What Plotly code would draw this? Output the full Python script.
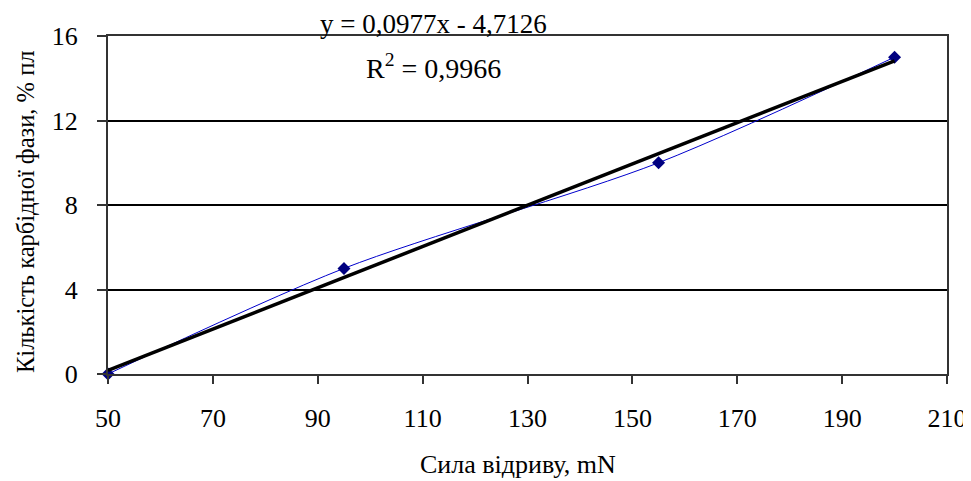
import numpy as np
import plotly.graph_objects as go

force = [50, 95, 155, 200]          # Сила відриву, mN
carbide = [0, 5, 10, 15]            # Кількість карбідної фази, %
x_ticks = [50, 70, 90, 110, 130, 150, 170, 190, 210]
y_ticks = [0, 4, 8, 12, 16]
x_title = "Сила відриву, mN"
y_title = "Кількість карбідної фази, % пл"

slope, intercept = np.polyfit(force, carbide, 1)
pred = np.polyval([slope, intercept], force)
r2 = 1 - np.sum((np.array(carbide) - pred) ** 2) / np.sum((np.array(carbide) - np.mean(carbide)) ** 2)
trend_x = [min(force), max(force)]
trend_y = [slope * v + intercept for v in trend_x]

font = "Liberation Serif, Times New Roman, serif"
OFF = 8  # page body margin offset
W, H = 971 - OFF, 481 - OFF
L, R, T, B = 108 - OFF, 24, 36 - OFF, 107
pw, ph = W - L - R, H - T - B


def px(xp):
    return (xp - OFF - L) / pw


def py(yp):
    return 1 + (T - (yp - OFF)) / ph


fig = go.Figure()
fig.add_trace(go.Scatter(
    x=force, y=carbide, mode="lines+markers",
    line=dict(color="#0000CC", width=1, shape="spline", smoothing=0.8),
    marker=dict(symbol="diamond", size=10, color="#000080"),
    showlegend=False, cliponaxis=False))
fig.add_trace(go.Scatter(
    x=trend_x, y=trend_y, mode="lines",
    line=dict(color="black", width=3.5), showlegend=False, cliponaxis=False))

eq = f"y = {slope:.4f}x - {abs(intercept):.4f}".replace(".", ",")
r2t = f"R<sup>2</sup> = {r2:.4f}".replace(".", ",")
fig.add_annotation(x=px(433), y=py(8), xref="paper", yref="paper", xanchor="center", yanchor="top",
                   text=eq, showarrow=False, borderpad=0,
                   font=dict(family=font, size=27, color="black"))
fig.add_annotation(x=px(433), y=py(66), xref="paper", yref="paper", xanchor="center", yanchor="middle",
                   text=r2t, showarrow=False, font=dict(family=font, size=28, color="black"))
fig.add_annotation(x=px(518), y=py(464), xref="paper", yref="paper", xanchor="center", yanchor="middle",
                   text=x_title, showarrow=False, font=dict(family=font, size=26, color="black"))
fig.add_annotation(x=px(25), y=py(212), xref="paper", yref="paper", xanchor="center", yanchor="middle",
                   text=y_title, textangle=-90, showarrow=False,
                   font=dict(family=font, size=24.5, color="black"))

fig.update_layout(
    width=W, height=H,
    margin=dict(l=L, r=R, t=T, b=B, autoexpand=False),
    paper_bgcolor="white", plot_bgcolor="white",
    font=dict(family=font, size=26, color="black"),
    xaxis=dict(range=[50, 210], tickvals=x_ticks, ticks="outside", ticklen=8, tickwidth=2,
               tickcolor="#333", showline=True, linecolor="#333", linewidth=2, mirror=True,
               showgrid=False, zeroline=False, ticklabelstandoff=12, automargin=False,
               tickfont=dict(family=font, size=26)),
    yaxis=dict(range=[0, 16], tickvals=y_ticks, ticks="outside", ticklen=9, tickwidth=2,
               tickcolor="#333", showline=True, linecolor="#333", linewidth=2, mirror=True,
               showgrid=True, gridcolor="black", gridwidth=1.5, zeroline=False,
               ticklabelstandoff=14, automargin=False,
               tickfont=dict(family=font, size=26)),
)
fig.write_html("out.html")
